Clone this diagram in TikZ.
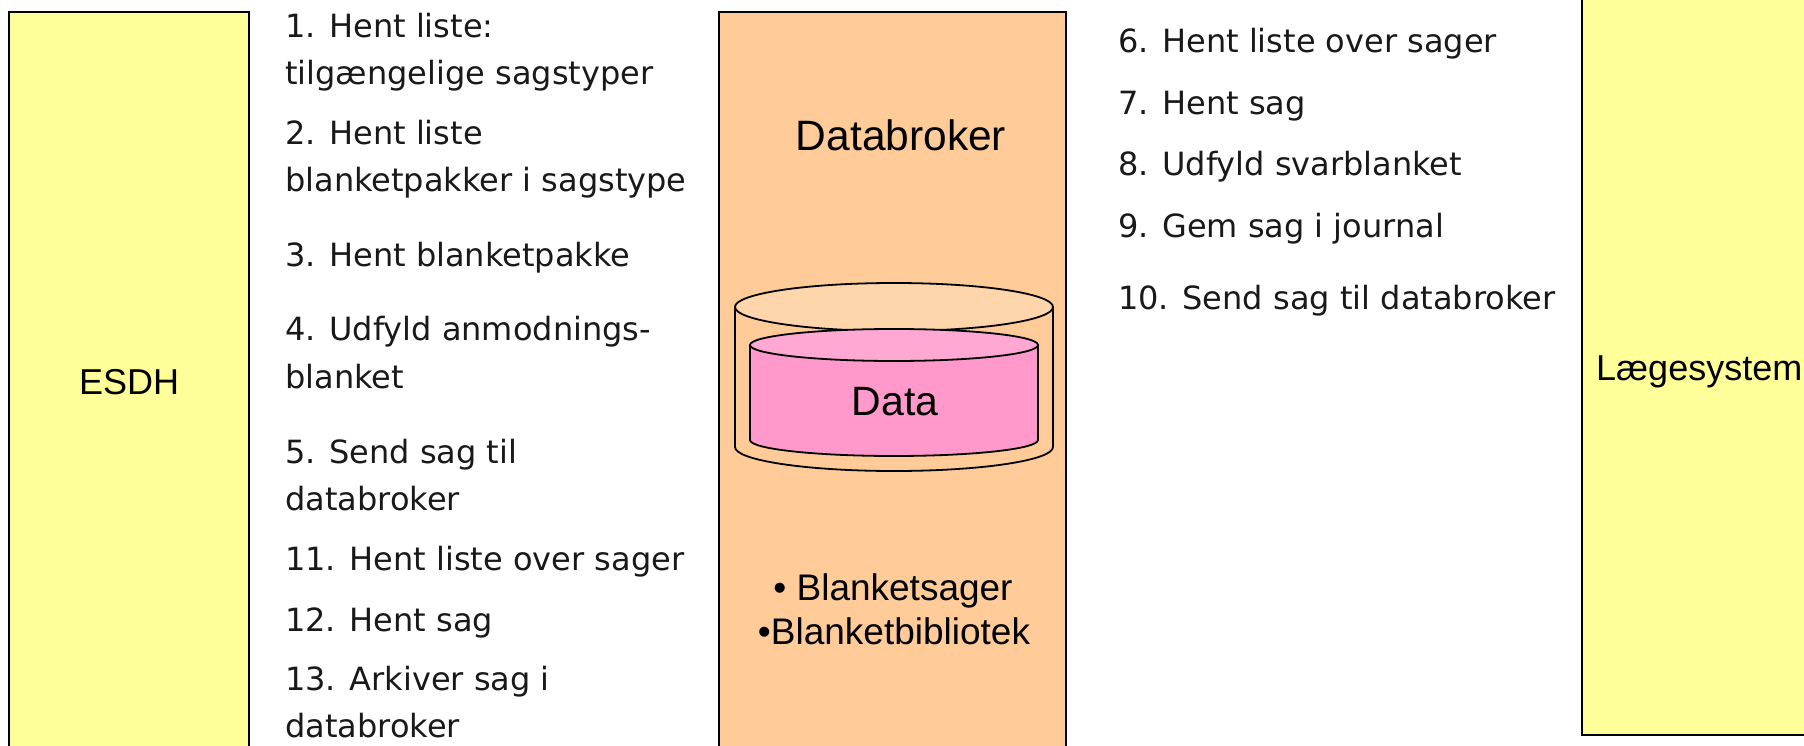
\documentclass[tikz,border=0pt]{standalone}
\usepackage{fontspec}
\setmainfont{Liberation Sans}
\newfontfamily\stepfont{DejaVu Sans}
\definecolor{yel}{HTML}{FFFF99}
\definecolor{ora}{HTML}{FFCC99}
\definecolor{oratop}{HTML}{FFD5AB}
\definecolor{pnk}{HTML}{FF99CC}
\definecolor{pnktop}{HTML}{FFA8D4}
\tikzset{
  x=1pt,y=-1pt,
  panel/.style={draw=black,line width=1.8pt},
  cyl/.style={draw=black,line width=1.8pt},
  steptext/.style={anchor=base west,inner sep=0pt,text=black!90,font=\fontsize{32}{32}\selectfont\stepfont},
  boxlabel/.style={anchor=base west,inner sep=0pt,font=\fontsize{36}{36}\selectfont},
  biglabel/.style={anchor=base,inner sep=0pt,font=\fontsize{41}{41}\selectfont},
  listlabel/.style={anchor=base,inner sep=0pt,font=\fontsize{37}{37}\selectfont},
}
\begin{document}
\begin{tikzpicture}
\useasboundingbox (0,0) rectangle (1804,746);
\clip (0,0) rectangle (1804,746);
\fill[white] (0,0) rectangle (1804,746);
% panels
\path[panel,fill=yel] (9,12) rectangle (249,760);
\path[panel,fill=ora] (719,12) rectangle (1066,760);
\path[panel,fill=yel] (1582,-20) rectangle (1830,735);
% outer cylinder
\path[cyl,fill=ora] (735,307) -- (735,447) arc[start angle=180,end angle=0,x radius=159,y radius=24] -- (1053,307) -- cycle;
\path[cyl,fill=oratop] (894,307) ellipse[x radius=159,y radius=24];
% inner cylinder
\path[cyl,fill=pnk] (750,345) -- (750,440) arc[start angle=180,end angle=0,x radius=144,y radius=16] -- (1038,345) -- cycle;
\path[cyl,fill=pnktop] (894,345) ellipse[x radius=144,y radius=16];
% labels
\node[boxlabel] (esdh) at (79,394) {ESDH};
\node[boxlabel] (laege) at (1596,380) {Lægesystem};
\node[biglabel,font=\fontsize{42.5}{42.5}\selectfont] (broker) at (901,151) {Databroker};
\node[biglabel] (data) at (895,415) {Data};
\node[listlabel] (b1) at (893,600) {\textbullet\ Blanketsager};
\node[listlabel] (b2) at (894,644) {\textbullet Blanketbibliotek};
% left steps
\node[steptext] (s1a) at (285,38) {1. Hent liste:};
\node[steptext] (s1b) at (285,85) {tilgængelige sagstyper};
\node[steptext] (s2a) at (285,145) {2. Hent liste};
\node[steptext] (s2b) at (285,192) {blanketpakker i sagstype};
\node[steptext] (s3) at (285,266) {3. Hent blanketpakke};
\node[steptext] (s4a) at (285,340) {4. Udfyld anmodnings-};
\node[steptext] (s4b) at (285,388) {blanket};
\node[steptext] (s5a) at (285,463) {5. Send sag til};
\node[steptext] (s5b) at (285,510) {databroker};
\node[steptext] (s11) at (285,570) {11. Hent liste over sager};
\node[steptext] (s12) at (285,631) {12. Hent sag};
\node[steptext] (s13a) at (285,690) {13. Arkiver sag i};
\node[steptext] (s13b) at (285,737) {databroker};
% right steps
\node[steptext] (s6) at (1118,53) {6. Hent liste over sager};
\node[steptext] (s7) at (1118,115) {7. Hent sag};
\node[steptext] (s8) at (1118,176) {8. Udfyld svarblanket};
\node[steptext] (s9) at (1118,237) {9. Gem sag i journal};
\node[steptext] (s10) at (1118,309) {10. Send sag til databroker};
\end{tikzpicture}
\end{document}
